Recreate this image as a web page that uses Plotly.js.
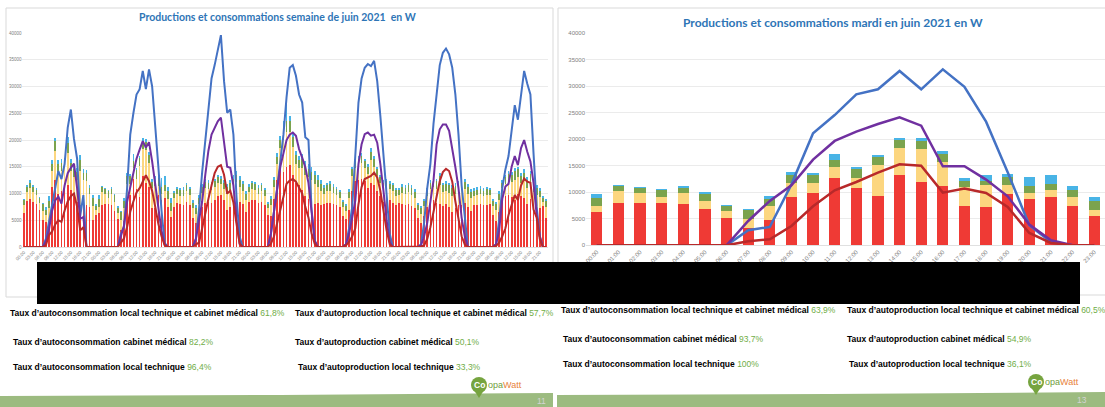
<!DOCTYPE html>
<html><head><meta charset="utf-8">
<script src="https://cdn.plot.ly/plotly-3.0.1.min.js"></script>
<style>html,body{margin:0;padding:0;background:#fff}#chart{width:1105px;height:407px}</style>
</head><body><div id="chart"></div>
<script>
// ---------- tick labels ----------
const hourLabels = ['00:00','01:00','02:00','03:00','04:00','05:00','06:00','07:00','08:00','09:00','10:00','11:00','12:00','13:00','14:00','15:00','16:00','17:00','18:00','19:00','20:00','21:00','22:00','23:00'];

// ---------- LEFT CHART: week of June 2021, hourly (7 days) ----------
// stacked bars per day: red / yellow / green / light blue
const d1_red = [6300,8600,9000,8500,8000,7000,5000,4700,4700,11200,12500,10000,10500,12000,11500,10700,9500,8500,7800,8000,7800,7500,5000,6000];
const d1_yel = [1500,1700,2000,1800,1800,1300,1800,1200,2600,3000,5500,4000,3800,3000,6000,3600,3500,4000,6500,4500,4600,2400,2700,1000];
const d1_grn = [900,1000,1000,1000,900,800,1200,1000,1300,1300,1900,1500,1400,1200,2000,1400,1500,1500,2000,1400,1400,1100,1400,700];
const d1_blu = [300,300,500,300,300,300,300,500,1000,800,500,800,800,500,1100,800,800,800,900,600,600,500,600,300];

const d2_red = [6290,7925,7990,7990,7800,6790,5220,3210,4840,9120,9810,12700,10820,9370,13270,11950,11260,7360,7230,9750,8740,9120,7490,5600];
const d2_yel = [1130,2265,1885,1190,2075,1575,1195,1820,2520,2705,2015,2020,1950,5790,5100,6170,4470,3650,4090,1570,1135,1260,1570,1130];
const d2_grn = [1510,940,1005,1260,945,1385,945,1570,1320,1445,1385,1380,1700,1510,1510,1510,1500,1130,880,1510,1385,1260,1320,1570];
const d2_blu = [820,190,120,190,310,250,310,190,570,630,500,1200,370,380,440,560,510,500,1010,690,1700,1700,750,820];

const d3_red = [7500,8200,8000,7800,8500,7800,5500,4500,5800,7500,8200,8500,8300,8800,9500,9700,8700,7000,7500,8300,8800,8400,8000,6500];
const d3_yel = [1600,1700,1600,1800,1900,1900,1700,1700,2200,2600,2800,2400,2300,2400,2400,2000,2200,3000,3000,3100,3300,2800,2400,2200];
const d3_grn = [1000,1000,1000,1100,1100,1100,1000,1100,1200,1200,1200,1100,1100,1100,1100,1000,1100,1300,1400,1400,1400,1300,1300,1200];
const d3_blu = [400,400,400,500,500,500,500,500,600,500,500,500,500,500,500,500,500,500,600,700,800,700,600,600];

const d4_red = [8500,8800,8700,8200,8500,7900,6000,5800,9000,12500,14500,14000,15000,15300,13500,12000,11500,10700,9500,9000,8500,8000,8200,7800];
const d4_yel = [1800,2000,1900,1800,1900,1700,1300,2000,2300,3000,4000,6000,6500,6200,5200,3500,3200,4000,4000,4000,4000,3800,3000,2600];
const d4_grn = [1000,1100,1100,1000,1100,1000,800,1200,1200,1400,1500,2200,2000,2000,1800,1700,1500,1700,1600,1600,1600,1600,1400,1300];
const d4_blu = [500,500,500,500,500,400,400,500,500,600,700,1300,3300,1000,1000,800,800,1000,900,900,900,900,900,800];

const d5_red = [8000,8300,8200,8000,7800,7500,5800,5200,7000,10500,12300,12500,12800,12300,11000,12000,11500,10500,9500,8500,9000,8800,8300,7800];
const d5_yel = [2000,2100,2300,2100,1900,1700,1700,1500,2200,2700,2500,2700,2900,2500,2700,4200,3400,2700,2400,2300,2200,2000,2100,1800];
const d5_grn = [1000,1100,1200,1100,1100,1000,900,900,1100,1300,1200,1300,1300,1200,1300,1600,1500,1300,1100,1200,1100,1000,1100,1000];
const d5_blu = [500,500,600,500,500,400,400,400,500,500,500,500,500,500,500,700,600,500,500,500,500,500,500,400];

const d6_red = [8300,8000,7800,8000,7700,7200,5500,4500,5800,7500,8500,8700,8300,8000,7700,8000,7500,6500,7200,7800,7800,8200,7500,6800];
const d6_yel = [1400,2100,2100,2200,2100,2000,1400,1700,1800,2000,2300,2600,2600,3500,2500,2500,2600,3000,2800,2600,2900,2700,2500,2300];
const d6_grn = [900,1200,1200,1300,1200,1100,900,1000,1000,1100,1200,1400,1400,1700,1300,1300,1400,1500,1400,1400,1400,1300,1300,1200];
const d6_blu = [400,500,500,500,500,500,400,400,400,400,500,500,500,600,500,500,500,500,600,500,600,600,500,500];

const d7_red = [7800,7900,8000,7800,7900,8000,6000,4800,6500,9000,9500,9800,9300,8800,10000,9500,9200,8000,9000,7500,7000,7200,7600,5500];
const d7_yel = [1700,1800,1900,1700,1900,1700,1600,2100,2300,2000,2300,2600,2800,3800,3000,2500,3200,3000,3200,2700,2700,2200,900,2000];
const d7_grn = [1000,1000,1000,1000,1000,1000,1000,1100,1200,1000,1200,1300,1400,1600,1500,1300,1500,1500,1500,1300,1300,1100,700,1100];
const d7_blu = [500,500,500,500,500,400,400,500,500,500,500,500,500,600,500,500,600,500,600,500,500,500,300,400];

// lines per day: blue / purple / dark red
const d1_lb = [0,0,0,0,0,0,0,1500,4500,7500,10600,14200,12700,15500,22300,25700,20200,16500,5800,9700,0,0,0,0];
const d1_lp = [0,0,0,0,0,0,0,1000,3200,6800,8700,9400,8100,11500,13800,14800,15600,11000,5300,5600,0,0,0,0];
const d1_lr = [0,0,0,0,0,0,0,300,2200,2900,4200,5000,4700,6800,8500,9500,10000,7500,3100,3700,0,0,0,0];
const d2_lb = [0,0,0,0,0,0,0,2500,3700,11000,21000,25000,28500,29500,32900,29500,33200,30000,22900,14900,6800,800,0,0];
const d2_lp = [0,0,0,0,0,0,0,2000,4000,8500,11000,14000,16500,18200,19800,18600,19600,16000,11500,7000,3000,500,0,0];
const d2_lr = [0,0,0,0,0,0,0,800,1600,3800,6600,8500,10200,11000,12200,13400,12300,10500,7500,4300,2000,300,0,0];
const d3_lb = [0,0,0,0,0,0,0,1500,7000,14000,19500,26000,31500,34000,37000,39600,31000,25100,25700,21000,9300,1900,0,0];
const d3_lp = [0,0,0,0,0,0,0,1500,5000,8500,13500,18000,21000,22300,23500,24200,19000,15000,14800,11500,5000,600,0,0];
const d3_lr = [0,0,0,0,0,0,0,500,800,3500,6500,9000,11500,13800,15000,15300,13500,10000,10500,8300,4300,600,0,0];
const d4_lb = [0,0,0,0,0,0,0,2500,6500,11000,16000,21000,28000,33500,34000,32000,28500,27000,20500,20000,7000,1200,0,0];
const d4_lp = [0,0,0,0,0,0,0,2500,7000,11000,15000,17500,20000,21000,21400,20800,18300,16700,14900,12000,6000,1200,0,0];
const d4_lr = [0,0,0,0,0,0,0,600,2000,4500,7000,9500,11800,12400,12700,12200,11000,10000,7500,5500,2500,600,0,0];
const d5_lb = [0,0,0,0,0,0,0,500,3500,7500,17000,27000,31500,33500,34200,33800,34800,31000,24500,16700,10000,2500,0,0];
const d5_lp = [0,0,0,0,0,0,0,500,2500,5500,8700,15500,19200,21100,21400,20800,21000,19500,15500,10500,5000,900,0,0];
const d5_lr = [0,0,0,0,0,0,0,300,1000,2000,3500,8000,11200,12700,13000,13300,13900,13000,10500,6800,3100,500,0,0];
const d6_lb = [0,0,0,0,0,0,0,500,4500,11000,15500,23000,29000,34000,36300,37100,36000,33500,28500,21000,11500,5000,0,0];
const d6_lp = [0,0,0,0,0,0,0,300,2000,4500,9000,12400,19200,22000,22900,22900,21700,18600,14900,11000,5500,2000,0,0];
const d6_lr = [0,0,0,0,0,0,0,100,300,1500,3700,6800,9900,12300,14000,14600,14200,12200,8500,5000,2000,500,0,0];
const d7_lb = [0,0,0,0,0,0,0,500,5000,11000,14500,17000,22000,26500,23800,28500,32900,30500,28500,17500,7500,2000,0,0];
const d7_lp = [0,0,0,0,0,0,0,500,3000,9000,11300,11800,15000,17000,15300,18500,20000,17800,16000,12000,6000,2000,0,0];
const d7_lr = [0,0,0,0,0,0,0,200,800,2000,3500,6000,8000,9700,8800,11500,12800,12200,12000,7000,5500,1500,0,0];

// ---------- RIGHT CHART: Tuesday in June 2021 (24 h) ----------
const r_red = [6290,7925,7990,7990,7800,6790,5220,3210,4840,9120,9810,12700,10820,9370,13270,11950,11260,7360,7230,9750,8740,9120,7490,5600];
const r_yel = [1130,2265,1885,1190,2075,1575,1195,1820,2520,2705,2015,2020,1950,5790,5100,6170,4470,3650,4090,1570,1135,1260,1570,1130];
const r_grn = [1510,940,1005,1260,945,1385,945,1570,1320,1445,1385,1380,1700,1510,1510,1510,1500,1130,880,1510,1385,1260,1320,1570];
const r_blu = [820,190,120,190,310,250,310,190,570,630,500,1200,370,380,440,560,510,500,1010,690,1700,1700,750,820];
const r_lineBlue   = [0,0,0,0,0,0,0,2830,3460,11500,21130,24580,28490,29430,32890,29430,33210,29920,23320,13800,3770,630,0,0];
const r_linePurple = [0,0,0,0,0,0,0,4590,8370,11320,16170,19690,21440,22880,24150,22570,14910,14910,12390,9250,3900,940,0,0];
const r_lineRed    = [0,0,0,0,0,0,0,755,1130,3650,7360,10380,11950,13710,15280,15030,9940,10690,9880,7230,2330,440,0,0];

// ---------- texts ----------
const titleLeft = 'Productions et consommations semaine de juin 2021  en W';
const titleRight = 'Productions et consommations mardi en juin 2021 en W';
const ratesLeft = [
  ['Taux d\u2019autoconsommation local technique et cabinet médical','61,8%'],
  ['Taux d\u2019autoproduction local technique et cabinet médical','57,7%'],
  ['Taux d\u2019autoconsommation cabinet médical','82,2%'],
  ['Taux d\u2019autoproduction cabinet médical','50,1%'],
  ['Taux d\u2019autoconsommation local technique','96,4%'],
  ['Taux d\u2019autoproduction local technique','33,3%']
];
const ratesRight = [
  ['Taux d\u2019autoconsommation local technique et cabinet médical','63,9%'],
  ['Taux d\u2019autoproduction local technique et cabinet médical','60,5%'],
  ['Taux d\u2019autoconsommation cabinet médical','93,7%'],
  ['Taux d\u2019autoproduction cabinet médical','54,9%'],
  ['Taux d\u2019autoconsommation local technique','100%'],
  ['Taux d\u2019autoproduction local technique','36,1%']
];

// ---------- build ----------
const W = 1105, H = 407;
const px = x => x / W, py = y => 1 - y / H;
const COL = {red:'#ef3a35', yel:'#fcd67f', grn:'#7ba34d', blu:'#49b4e6', lBlue:'#4472c4', lPurple:'#7030a0', lRed:'#b8292a'};

const leftRed = [].concat(d1_red,d2_red,d3_red,d4_red,d5_red,d6_red,d7_red);
const leftYel = [].concat(d1_yel,d2_yel,d3_yel,d4_yel,d5_yel,d6_yel,d7_yel);
const leftGrn = [].concat(d1_grn,d2_grn,d3_grn,d4_grn,d5_grn,d6_grn,d7_grn);
const leftBlu = [].concat(d1_blu,d2_blu,d3_blu,d4_blu,d5_blu,d6_blu,d7_blu);
const leftLB = [].concat(d1_lb,d2_lb,d3_lb,d4_lb,d5_lb,d6_lb,d7_lb);
const leftLP = [].concat(d1_lp,d2_lp,d3_lp,d4_lp,d5_lp,d6_lp,d7_lp);
const leftLR = [].concat(d1_lr,d2_lr,d3_lr,d4_lr,d5_lr,d6_lr,d7_lr);
const leftX = leftRed.map((_, i) => i);
const ltv = [], ltt = [];
for (let i = 0; i < leftX.length; i += 3) { ltv.push(i); ltt.push(hourLabels[i % 24]); }

const traces = [];
function bar(x, y, c, xa, ya, w) {
  return {type:'bar', x:x, y:y, xaxis:xa, yaxis:ya, width:w, marker:{color:c, line:{width:0}}, hoverinfo:'skip'};
}
function line(x, y, c, xa, ya, w) {
  return {type:'scatter', mode:'lines', x:x, y:y, xaxis:xa, yaxis:ya, line:{color:c, width:w}, hoverinfo:'skip'};
}
traces.push(bar(leftX, leftRed, COL.red, 'x', 'y', 0.55));
traces.push(bar(leftX, leftYel, COL.yel, 'x', 'y', 0.55));
traces.push(bar(leftX, leftGrn, COL.grn, 'x', 'y', 0.55));
traces.push(bar(leftX, leftBlu, COL.blu, 'x', 'y', 0.55));
traces.push(line(leftX, leftLB, COL.lBlue, 'x', 'y', 2));
traces.push(line(leftX, leftLP, COL.lPurple, 'x', 'y', 2));
traces.push(line(leftX, leftLR, COL.lRed, 'x', 'y', 2));

traces.push(bar(hourLabels, r_red, COL.red, 'x2', 'y2', 0.52));
traces.push(bar(hourLabels, r_yel, COL.yel, 'x2', 'y2', 0.52));
traces.push(bar(hourLabels, r_grn, COL.grn, 'x2', 'y2', 0.52));
traces.push(bar(hourLabels, r_blu, COL.blu, 'x2', 'y2', 0.52));
traces.push(line(hourLabels, r_lineBlue, COL.lBlue, 'x2', 'y2', 2.5));
traces.push(line(hourLabels, r_linePurple, COL.lPurple, 'x2', 'y2', 2.5));
traces.push(line(hourLabels, r_lineRed, COL.lRed, 'x2', 'y2', 2.5));

const annotations = [];
annotations.push({xref:'paper', yref:'paper', x:px(277), y:py(17), text:'<b>' + titleLeft + '</b>', showarrow:false,
  xanchor:'center', yanchor:'middle', font:{family:'Lato', size:10.5, color:'#2e75b6'}});
annotations.push({xref:'paper', yref:'paper', x:px(833), y:py(22), text:'<b>' + titleRight + '</b>', showarrow:false,
  xanchor:'center', yanchor:'middle', font:{family:'Lato', size:12, color:'#2e75b6'}});

const posLeft = [[8,313],[293,313],[11,342],[293,342],[11,367],[296,367]];
const posRight = [[559,310],[845,310],[561,339],[845,339],[561,364],[847,364]];
function addRates(list, pos) {
  list.forEach((r, i) => {
    annotations.push({xref:'paper', yref:'paper', x:px(pos[i][0]), y:py(pos[i][1]), showarrow:false,
      xanchor:'left', yanchor:'middle',
      text:'<b>' + r[0] + '</b> <span style="color:#70ad47">' + r[1] + '</span>',
      font:{family:'Liberation Sans', size:8.5, color:'#000'}});
  });
}
addRates(ratesLeft, posLeft);
addRates(ratesRight, posRight);

function path(pts) { return 'M ' + pts.map(p => px(p[0]) + ',' + py(p[1])).join(' L ') + ' Z'; }
const shapes = [
  // chart frames
  {type:'rect', xref:'paper', yref:'paper', x0:px(6), x1:px(553), y0:py(297), y1:py(8), line:{color:'#d9d9d9', width:1}, layer:'below'},
  {type:'rect', xref:'paper', yref:'paper', x0:px(558), x1:px(1110), y0:py(295), y1:py(8), line:{color:'#d9d9d9', width:1}, layer:'below'},
  // black box
  {type:'rect', xref:'paper', yref:'paper', x0:px(37), x1:px(1080), y0:py(304), y1:py(262), fillcolor:'#000', line:{width:0}},
  // green footer bands
  {type:'path', xref:'paper', yref:'paper', path:path([[0,396],[280,395],[553,393],[553,407],[0,407]]), fillcolor:'#9cbb80', line:{width:0}, layer:'below'},
  {type:'path', xref:'paper', yref:'paper', path:path([[557,395],[830,394],[1105,392],[1105,407],[557,407]]), fillcolor:'#9cbb80', line:{width:0}, layer:'below'}
];

// page numbers
annotations.push({xref:'paper', yref:'paper', x:px(541), y:py(401), yanchor:'middle', text:'11', showarrow:false, borderpad:0,
  font:{family:'Liberation Sans', size:8.5, color:'#d4d4d4'}});
annotations.push({xref:'paper', yref:'paper', x:px(1088), y:py(400), yanchor:'middle', text:'13', showarrow:false, borderpad:0,
  font:{family:'Liberation Sans', size:8.5, color:'#d4d4d4'}});

// logos: green map pin carrying "Co", then "opaWatt"
[[479,385],[1036,382]].forEach(p => {
  const cx = p[0], cy = p[1];
  shapes.push({type:'circle', xref:'paper', yref:'paper', x0:px(cx - 8), x1:px(cx + 8), y0:py(cy + 8), y1:py(cy - 8), fillcolor:'#76a43f', line:{width:0}});
  shapes.push({type:'path', xref:'paper', yref:'paper', path:path([[cx - 5, cy + 5],[cx + 5, cy + 5],[cx, cy + 13]]), fillcolor:'#76a43f', line:{width:0}});
  annotations.push({xref:'paper', yref:'paper', x:px(cx), y:py(cy), text:'<b>Co</b>', showarrow:false, xanchor:'center', yanchor:'middle', borderpad:0,
    font:{family:'Liberation Sans', size:8.5, color:'#fff'}});
  annotations.push({xref:'paper', yref:'paper', x:px(cx + 8), y:py(cy), xanchor:'left', yanchor:'middle', showarrow:false, borderpad:0,
    text:'<span style="color:#6f9e3c">opa</span><span style="color:#e8823a">Watt</span>', font:{family:'Liberation Sans', size:9}});
});

const tickFontL = {family:'Liberation Sans', size:4.5, color:'#808080'};
const tickFontR = {family:'Liberation Sans', size:6, color:'#808080'};
const layout = {
  width:W, height:H, margin:{l:0, r:0, t:0, b:0}, paper_bgcolor:'#fff', plot_bgcolor:'rgba(0,0,0,0)',
  showlegend:false, barmode:'stack',
  xaxis:{domain:[px(22.4), px(547.6)], range:[-0.5, 167.5], tickmode:'array', tickvals:ltv, ticktext:ltt, tickangle:-45,
    tickfont:tickFontL, showgrid:false, zeroline:false, showline:true, linecolor:'#e0e0e0', ticks:'', anchor:'y', automargin:false, fixedrange:true},
  yaxis:{domain:[py(247), py(33)], range:[0, 40000], dtick:5000, tickformat:'d', tickfont:tickFontL, gridcolor:'#ebebeb',
    zeroline:false, showline:false, ticks:'', anchor:'x', automargin:false, fixedrange:true},
  xaxis2:{domain:[px(586), px(1105)], type:'category', range:[-0.5, 23.5], tickangle:-45, tickfont:tickFontR,
    showgrid:false, zeroline:false, showline:true, linecolor:'#e0e0e0', ticks:'', anchor:'y2', automargin:false, fixedrange:true},
  yaxis2:{domain:[py(245.3), py(33.3)], range:[0, 40000], dtick:5000, tickformat:'d', tickfont:tickFontR, gridcolor:'#ebebeb',
    zeroline:false, showline:false, ticks:'', anchor:'x2', automargin:false, fixedrange:true},
  annotations:annotations, shapes:shapes
};
Plotly.newPlot('chart', traces, layout, {staticPlot:true, displayModeBar:false});
</script>
</body></html>
